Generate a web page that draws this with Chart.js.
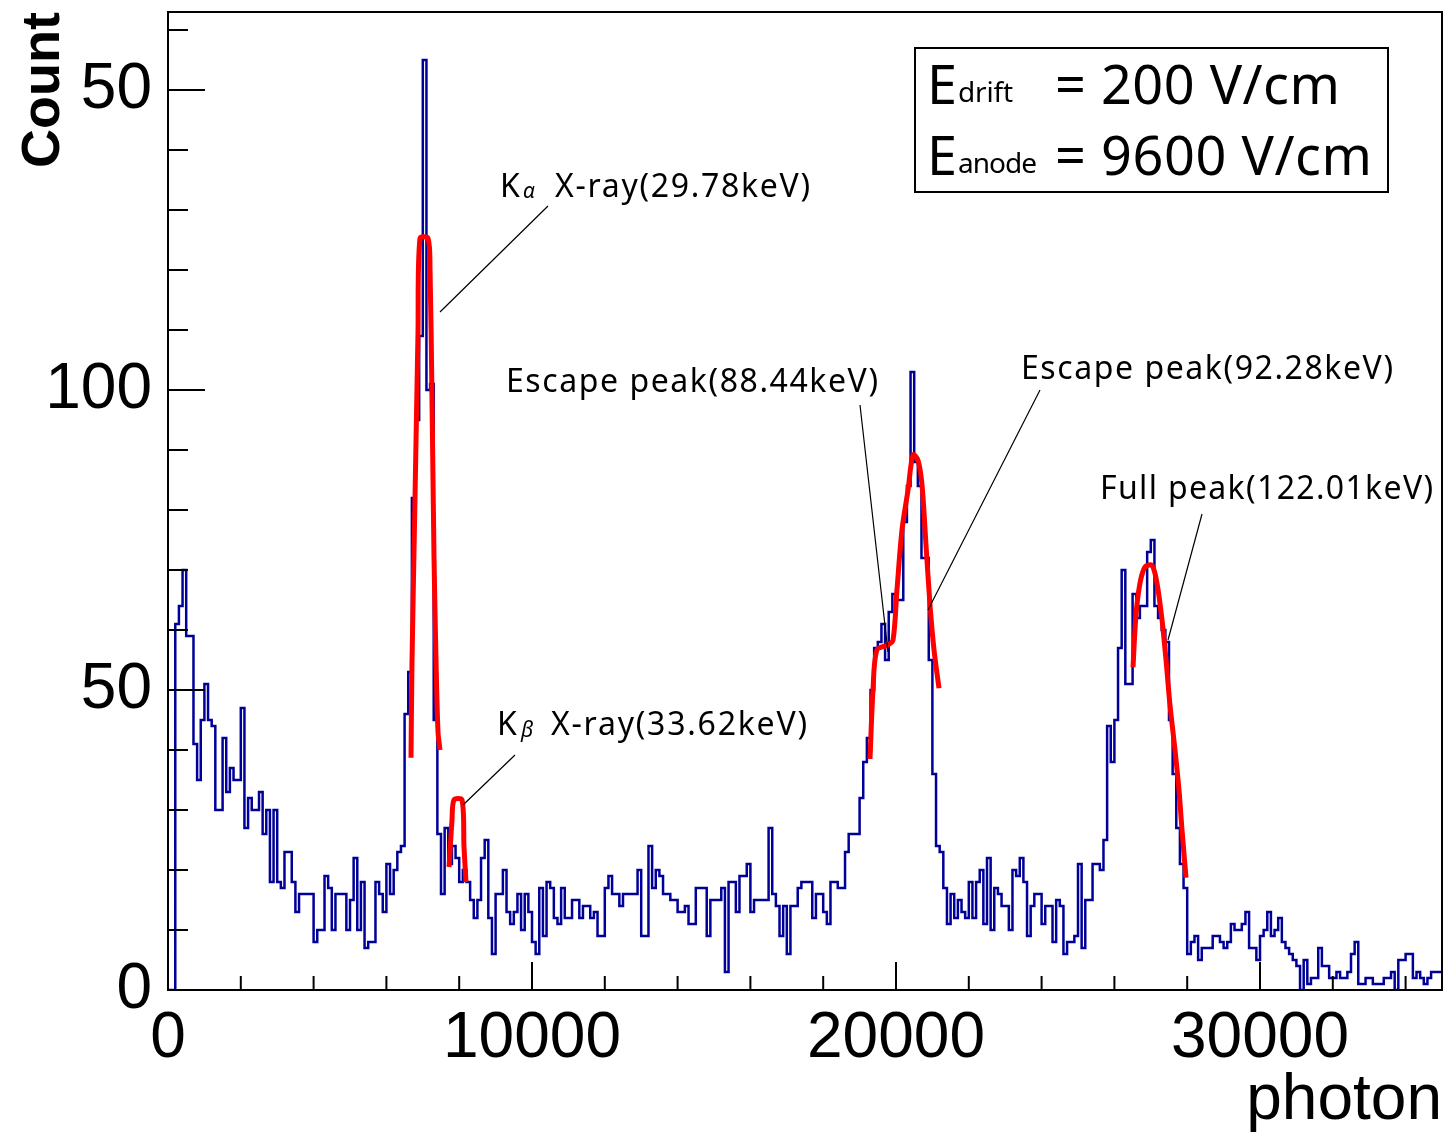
<!DOCTYPE html>
<html>
<head>
<meta charset="utf-8">
<script src="https://cdn.jsdelivr.net/npm/chart.js@4.4.0/dist/chart.umd.min.js"></script>
<style>
html, body { margin: 0; padding: 0; background: #fff; }
canvas { display: block; }
</style>
</head>
<body>
<canvas id="PhotonCanvas" width="1455" height="1136"></canvas>
<script>
// histogram: 350 bins of 100 photons, 0 - 35000
var binWidth = 100;
var counts = [
    0, 0, 0, 61, 64, 70, 59, 59, 41, 35,
    45, 51, 45, 44, 30, 30, 42, 33, 37, 35,
    35, 47, 27, 32, 30, 30, 33, 26, 30, 18,
    30, 18, 17, 23, 23, 18, 13, 16, 16, 16,
    16, 8, 10, 10, 19, 17, 10, 16, 16, 16,
    10, 15, 22, 10, 18, 7, 8, 8, 18, 16,
    13, 21, 16, 20, 23, 24, 46, 53, 82, 95,
    109, 155, 100, 101, 45, 26, 16, 27, 21, 24,
    22, 18, 20, 18, 15, 12, 15, 22, 25, 12,
    6, 16, 16, 20, 13, 11, 13, 16, 10, 16,
    13, 8, 6, 17, 9, 18, 17, 12, 11, 17,
    12, 12, 15, 15, 12, 14, 14, 12, 13, 9,
    9, 17, 19, 16, 16, 14, 16, 16, 16, 16,
    20, 9, 9, 24, 17, 20, 19, 16, 16, 15,
    15, 13, 13, 14, 11, 11, 17, 17, 17, 9,
    15, 15, 15, 17, 3, 18, 18, 13, 19, 19,
    21, 13, 15, 15, 15, 15, 27, 16, 14, 9,
    14, 6, 14, 14, 17, 18, 18, 18, 12, 16,
    16, 13, 11, 18, 18, 17, 17, 23, 26, 26,
    26, 32, 38, 42, 50, 57, 58, 61, 55, 63,
    66, 65, 65, 78, 84, 103, 88, 84, 72, 72,
    55, 36, 24, 23, 17, 11, 16, 12, 15, 13,
    12, 18, 12, 18, 20, 11, 22, 10, 17, 16,
    14, 14, 10, 20, 19, 22, 18, 9, 14, 16,
    16, 11, 14, 14, 8, 15, 14, 6, 8, 8,
    9, 21, 7, 15, 15, 21, 21, 20, 25, 44,
    38, 45, 57, 70, 51, 51, 66, 62, 64, 64,
    73, 75, 64, 62, 60, 58, 45, 36, 27, 21,
    17, 6, 8, 9, 5, 7, 7, 7, 9, 9,
    8, 7, 8, 11, 10, 10, 11, 13, 7, 7,
    5, 9, 10, 13, 9, 10, 12, 8, 7, 6,
    5, 4, 0, 5, 1, 2, 2, 7, 4, 4,
    2, 2, 3, 2, 2, 3, 6, 8, 1, 1,
    2, 2, 1, 1, 1, 2, 2, 3, 0, 5,
    5, 6, 6, 2, 3, 2, 1, 2, 3, 3
];

// fitted curves
var kaFitX = [6676, 6703, 6786, 6868, 6923, 7143, 7198, 7253, 7308, 7363, 7418, 7473];
var kaFitY = [38.7, 54.5, 82, 109.5, 125.3, 125.3, 120.3, 98.3, 72.2, 55, 43, 40];
var kbFitX = [7720, 7802, 7857, 8077, 8132, 8187];
var kbFitY = [20.5, 28.3, 31.7, 31.7, 23.8, 18];
var escFitX = [19286, 19368, 19478, 19780, 19918, 20027, 20165, 20330, 20467, 20604, 20714, 20824, 20934, 21044, 21181];
var escFitY = [38.5, 50, 56.7, 57.5, 58.3, 66.7, 76.7, 83.3, 89.2, 88.3, 84.2, 74.2, 64.2, 56.7, 50.3];
var fullFitX = [26511, 26593, 26703, 26841, 27033, 27170, 27308, 27418, 27527, 27665, 27775, 27857, 27967];
var fullFitY = [53.8, 62.5, 67.8, 70.5, 70.8, 67.8, 61.7, 55, 47.5, 40, 33.3, 26.7, 18.7];

var xTickValues = [0, 10000, 20000, 30000];
var xTickLabels = ['0', '10000', '20000', '30000'];
var yTickValues = [0, 50, 100, 150];
var yTickLabels = ['0', '50', '100', '50'];

function pairs(xs, ys) {
    return xs.map(function (x, i) { return {x: x, y: ys[i]}; });
}

var histPoints = counts.map(function (c, i) { return {x: i * binWidth, y: c}; });
histPoints.push({x: counts.length * binWidth, y: counts[counts.length - 1]});

function fitDataset(xs, ys) {
    return {
        data: pairs(xs, ys),
        borderColor: '#ff0000',
        borderWidth: 5,
        pointRadius: 0,
        fill: false,
        tension: 0.3,
        order: 1
    };
}

// draw text squeezed/stretched to a target width through letter spacing
function fitText(ctx, text, x, y, width) {
    ctx.letterSpacing = '0px';
    var w = ctx.measureText(text).width;
    var sp = (width - w) / Math.max(1, text.length - 1);
    ctx.letterSpacing = sp.toFixed(2) + 'px';
    ctx.fillText(text, x, y);
    ctx.letterSpacing = '0px';
}

var frameTicks = {
    id: 'frameTicks',
    afterDatasetsDraw: function (chart) {
        var ctx = chart.ctx, a = chart.chartArea;
        var xs = chart.scales.x, ys = chart.scales.y;
        ctx.save();
        ctx.strokeStyle = '#000';
        ctx.lineWidth = 2;
        ctx.strokeRect(a.left, a.top, a.right - a.left, a.bottom - a.top);
        ctx.beginPath();
        for (var v = 0; v <= 160; v += 10) {
            var py = ys.getPixelForValue(v);
            var len = (v % 50 === 0) ? 37 : 20;
            ctx.moveTo(a.left, py);
            ctx.lineTo(a.left + len, py);
        }
        for (var u = 0; u <= 34000; u += 2000) {
            var px = xs.getPixelForValue(u);
            var tl = (u % 10000 === 0) ? 28 : 14;
            ctx.moveTo(px, a.bottom);
            ctx.lineTo(px, a.bottom - tl);
        }
        ctx.stroke();
        ctx.restore();
    }
};

var notes = {
    id: 'notes',
    afterDraw: function (chart) {
        var ctx = chart.ctx;
        ctx.save();
        ctx.fillStyle = '#000';
        ctx.strokeStyle = '#000';
        ctx.lineWidth = 1.2;
        ctx.textBaseline = 'alphabetic';
        ctx.textAlign = 'left';
        var f = '"Noto Sans", "Liberation Sans", sans-serif';

        // leader lines
        var lines = [
            [548, 206, 440, 312],
            [515, 755, 463, 805],
            [860, 405, 888, 652],
            [1040, 390, 928, 610],
            [1202, 514, 1168, 640]
        ];
        ctx.beginPath();
        lines.forEach(function (l) { ctx.moveTo(l[0], l[1]); ctx.lineTo(l[2], l[3]); });
        ctx.stroke();

        ctx.font = '32px ' + f;
        ctx.fillText('K', 500, 197);
        ctx.font = 'italic 21px ' + f;
        ctx.fillText('\u03b1', 523, 198);
        ctx.font = '32px ' + f;
        fitText(ctx, 'X-ray(29.78keV)', 555, 197, 255);

        ctx.fillText('K', 497, 735);
        ctx.font = 'italic 21px ' + f;
        ctx.fillText('\u03b2', 521, 737);
        ctx.font = '32px ' + f;
        fitText(ctx, 'X-ray(33.62keV)', 551, 735, 256);

        fitText(ctx, 'Escape peak(88.44keV)', 506, 392, 372);
        fitText(ctx, 'Escape peak(92.28keV)', 1021, 379, 372);
        fitText(ctx, 'Full peak(122.01keV)', 1100, 499, 333);

        // field box
        ctx.lineWidth = 2;
        ctx.strokeRect(915, 48, 473, 144);
        ctx.font = '54px ' + f;
        fitText(ctx, 'E', 927, 104, 28);
        fitText(ctx, 'E', 927, 175, 28);
        fitText(ctx, '= 200 V/cm', 1055, 104, 285);
        fitText(ctx, '= 9600 V/cm', 1055, 175, 317);
        ctx.font = '28px ' + f;
        fitText(ctx, 'drift', 958, 102, 55);
        fitText(ctx, 'anode', 958, 173, 79);
        ctx.restore();
    }
};

var photonCtx = document.getElementById('PhotonCanvas').getContext('2d');

window.PhotonChart = new Chart(photonCtx, {
    type: 'line',
    data: {
        datasets: [
            fitDataset(kaFitX, kaFitY),
            fitDataset(kbFitX, kbFitY),
            fitDataset(escFitX, escFitY),
            fitDataset(fullFitX, fullFitY),
            {
                data: histPoints,
                stepped: 'after',
                borderColor: '#000099',
                borderWidth: 2.5,
                pointRadius: 0,
                fill: false,
                order: 2
            }
        ]
    },
    options: {
        responsive: false,
        animation: false,
        devicePixelRatio: 1,
        layout: { padding: { top: 12, right: 13, left: 0, bottom: 0 } },
        plugins: {
            legend: { display: false },
            tooltip: { enabled: false }
        },
        scales: {
            x: {
                type: 'linear',
                min: 0,
                max: 35000,
                grid: { display: false },
                border: { display: false },
                afterBuildTicks: function (scale) {
                    scale.ticks = xTickValues.map(function (v) { return {value: v}; });
                },
                afterFit: function (scale) {
                    scale.height = 146;
                    scale.paddingLeft = 0;
                    scale.paddingRight = 0;
                },
                ticks: {
                    autoSkip: false,
                    maxRotation: 0,
                    padding: 3,
                    color: '#000',
                    font: { family: '"Liberation Sans", Arial, sans-serif', size: 64 },
                    callback: function (v, i) { return xTickLabels[i]; }
                },
                title: {
                    display: true,
                    text: 'photon',
                    align: 'end',
                    color: '#000',
                    font: { family: '"Liberation Sans", Arial, sans-serif', size: 64, lineHeight: 1 },
                    padding: { top: 0, bottom: 3 }
                }
            },
            y: {
                min: 0,
                max: 163,
                grid: { display: false },
                border: { display: false },
                afterBuildTicks: function (scale) {
                    scale.ticks = yTickValues.map(function (v) { return {value: v}; });
                },
                afterFit: function (scale) {
                    scale.width = 168;
                    scale.paddingTop = 0;
                    scale.paddingBottom = 0;
                },
                ticks: {
                    autoSkip: false,
                    padding: 8,
                    color: '#000',
                    font: { family: '"Liberation Sans", Arial, sans-serif', size: 64 },
                    callback: function (v, i) { return yTickLabels[i]; }
                },
                title: {
                    display: true,
                    text: 'Count',
                    align: 'end',
                    color: '#000',
                    font: { family: '"Liberation Sans", Arial, sans-serif', size: 54, weight: 'bold', lineHeight: 1.2 },
                    padding: { top: 12, bottom: 0 }
                }
            }
        }
    },
    plugins: [frameTicks, notes]
});
</script>
</body>
</html>
